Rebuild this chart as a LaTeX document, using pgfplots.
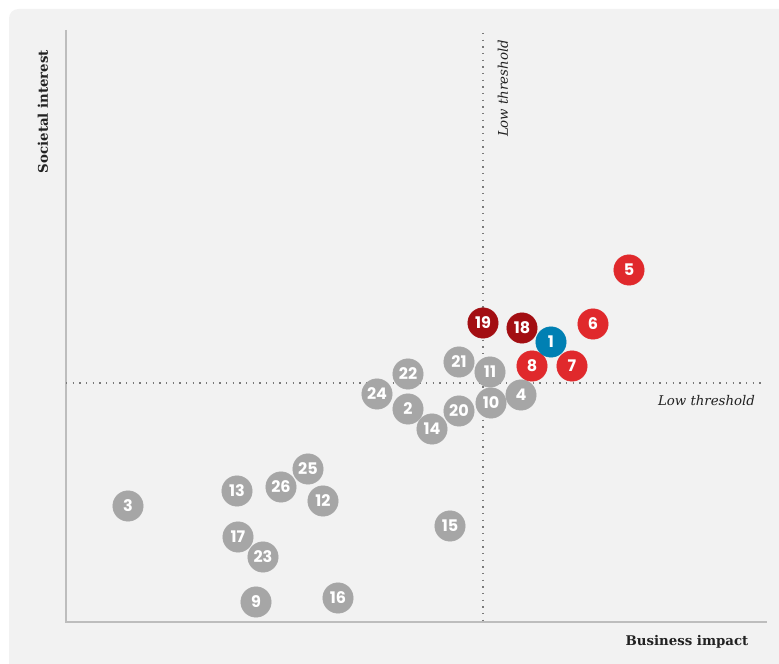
\documentclass[border=0pt]{standalone}
\usepackage{pgfplots}
\pgfplotsset{compat=1.18}
\usepackage{fontspec}
\setmainfont{DejaVu Serif}
\newfontfamily\numfont{Poppins}
\definecolor{bgcol}{HTML}{F2F2F2}
\definecolor{cgray}{HTML}{A6A6A6}
\definecolor{cred}{HTML}{E0292C}
\definecolor{cdark}{HTML}{A30E12}
\definecolor{cblue}{HTML}{0080B3}
\definecolor{axcol}{HTML}{BDBDBD}
\definecolor{dotcol}{HTML}{7A7A7A}
\definecolor{txtcol}{HTML}{222222}
\pgfplotsset{
  bubble/.style={only marks, mark=*, mark size=11.4pt, draw=#1, fill=#1,
    mark options={draw=#1, fill=#1, line width=0.4pt},
    nodes near coords, point meta=explicit symbolic,
    every node near coord/.style={anchor=center, inner sep=0pt,
      font=\numfont\bfseries\fontsize{12}{12}\selectfont, text=white}}
}
\begin{document}
\begin{tikzpicture}
\begin{axis}[
  width=584.25pt, height=498pt, scale only axis,
  xmin=0, xmax=779, ymin=0, ymax=664,
  axis lines=none, clip=false,
]
\path (axis cs:0,0) rectangle (axis cs:779,664);
\fill[bgcol] (axis cs:779,0) -- (axis cs:9,0) [rounded corners=7pt] -- (axis cs:9,655) [sharp corners] -- (axis cs:779,655) -- cycle;
% axes
\draw[axcol, line width=1.4pt] (axis cs:66,634) -- (axis cs:66,42) -- (axis cs:767,42);
% thresholds
\draw[dotcol, line width=1.1pt, dash pattern=on 1.1pt off 3.9pt] (axis cs:483,631) -- (axis cs:483,42);
\draw[dotcol, line width=1.1pt, dash pattern=on 1.1pt off 3.9pt] (axis cs:66,281) -- (axis cs:762,281);
% labels
\node[rotate=90, text=txtcol, font=\bfseries\fontsize{10}{12}\selectfont] at (axis cs:43,552.5) {Societal interest};
\node[text=txtcol, font=\bfseries\fontsize{10}{12}\selectfont] at (axis cs:687,22) {Business impact};
\node[text=txtcol, font=\itshape\fontsize{10}{12}\selectfont] at (axis cs:706.5,263) {Low threshold};
\node[rotate=90, text=txtcol, font=\itshape\fontsize{10}{12}\selectfont] at (axis cs:503,575.5) {Low threshold};
% bubbles
\addplot[bubble=cgray] table[meta=label] {
x y label
408 255 2
128 158 3
521 269 4
256 62 9
491 261 10
490 292 11
323 163 12
237 173 13
432 235 14
450 138 15
338 66 16
238 127 17
459 253 20
459 302 21
408 290 22
263 107 23
377 270 24
308 195 25
281 177 26
};
\addplot[bubble=cred] table[meta=label] {
x y label
629 394 5
593 340 6
572 298 7
532 298 8
};
\addplot[bubble=cdark] table[meta=label] {
x y label
522 336 18
483 341 19
};
\addplot[bubble=cblue] table[meta=label] {
x y label
551 322 1
};
\end{axis}
\end{tikzpicture}
\end{document}
